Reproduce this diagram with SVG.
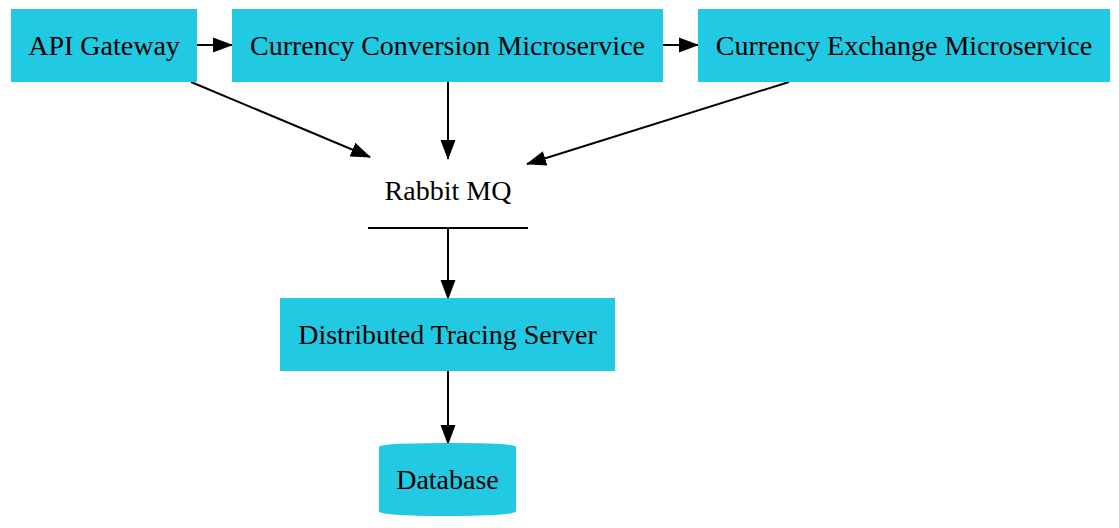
<svg xmlns="http://www.w3.org/2000/svg" width="1119" height="528" viewBox="0 0 1119 528">
  <style>
    .box { fill: #22c9e2; stroke: none; }
    .label { font-family: "Liberation Serif", "Times New Roman", serif; font-size: 28px; fill: #000; text-anchor: middle; }
    .edge { stroke: #000; stroke-width: 2; fill: none; marker-end: url(#arrow); }
  </style>
  <defs>
    <!-- filled triangular arrowhead, tip on the line end -->
    <marker id="arrow" markerWidth="20" markerHeight="16" refX="19" refY="8" orient="auto" markerUnits="userSpaceOnUse">
      <path d="M0,0.5 L20,8 L0,15.5 Z" fill="#000"/>
    </marker>
  </defs>
  <rect width="1119" height="528" fill="#fff"/>

  <g id="connectors">
    <line class="edge" x1="197" y1="45" x2="232" y2="45"/>
    <line class="edge" x1="663" y1="45" x2="698" y2="45"/>
    <line class="edge" x1="191" y1="82" x2="370" y2="157"/>
    <line class="edge" x1="448" y1="82" x2="448" y2="159"/>
    <line class="edge" x1="789" y1="82" x2="527" y2="164"/>
    <line class="edge" x1="448" y1="228" x2="448" y2="299"/>
    <line class="edge" x1="448" y1="371" x2="448" y2="444"/>
  </g>

  <g id="api-gateway">
    <rect class="box" x="11" y="9" width="186" height="73"/>
    <text class="label" x="104" y="55">API Gateway</text>
  </g>
  <g id="currency-conversion">
    <rect class="box" x="232" y="9" width="431" height="73"/>
    <text class="label" x="447.5" y="55">Currency Conversion Microservice</text>
  </g>
  <g id="currency-exchange">
    <rect class="box" x="698" y="9" width="412" height="73"/>
    <text class="label" x="904" y="55">Currency Exchange Microservice</text>
  </g>
  <g id="rabbit-mq">
    <text class="label" x="448" y="200">Rabbit MQ</text>
    <line x1="368" y1="228" x2="528" y2="228" stroke="#000" stroke-width="2"/>
  </g>
  <g id="tracing-server">
    <rect class="box" x="280" y="298" width="335" height="73"/>
    <text class="label" x="447.5" y="344">Distributed Tracing Server</text>
  </g>
  <g id="database">
    <path class="box" d="M379,447 Q379,443 448,443 Q516,443 516,447 L516,511 Q516,516 448,516 Q379,516 379,511 Z"/>
    <text class="label" x="447.5" y="489">Database</text>
  </g>
</svg>
